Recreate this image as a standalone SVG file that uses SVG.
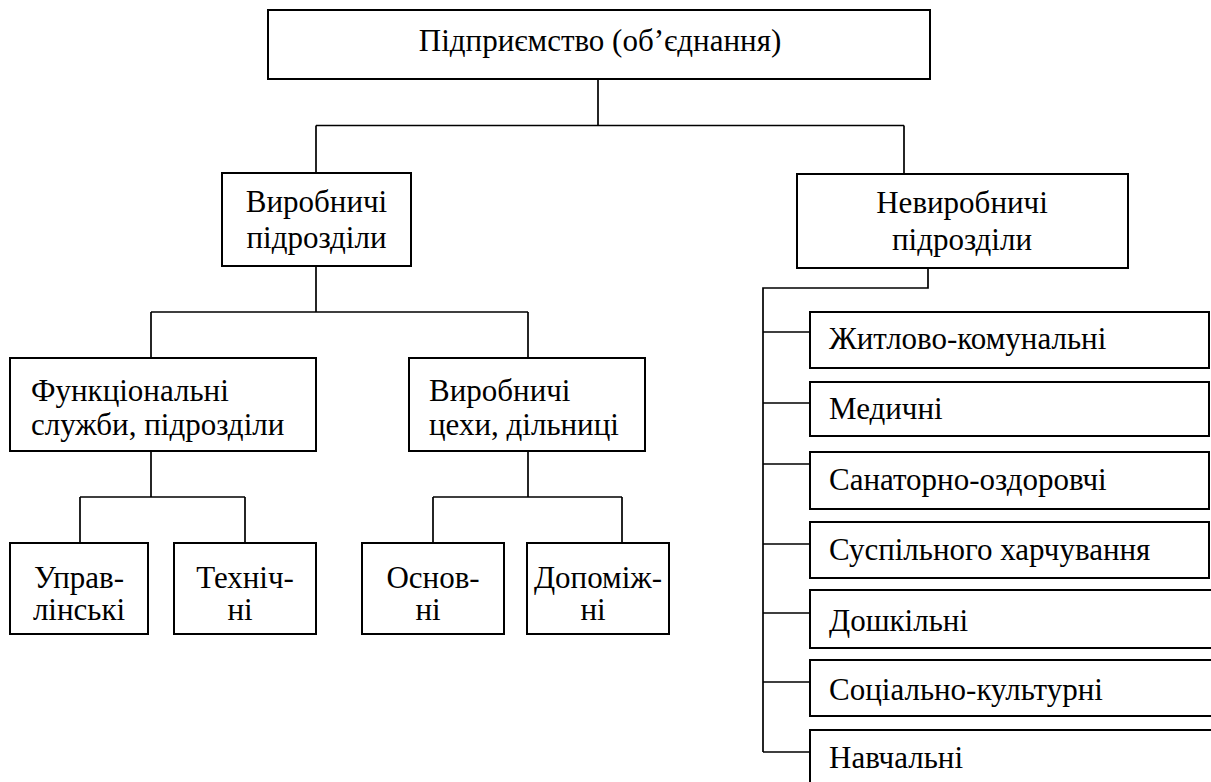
<svg xmlns="http://www.w3.org/2000/svg" width="1211" height="782" viewBox="0 0 1211 782">
  <style>
    .box { fill: #ffffff; stroke: #000000; stroke-width: 2; }
    .wire { fill: none; stroke: #000000; stroke-width: 1.7; }
    .t { font-size: 31px; fill: #000000; }
    .c { text-anchor: middle; }
  </style>
  <rect width="1211" height="782" fill="#ffffff"/>

  <!-- connectors -->
  <g id="connectors">
    <path class="wire" d="M598 79 V125.5 M316 125.5 H904 M316 125.5 V173 M904 125.5 V174"/>
    <path class="wire" d="M316 266 V312 M151 312 H528 M151 312 V358 M528 312 V358"/>
    <path class="wire" d="M151 451 V497 M80 497 H245 M80 497 V543 M245 497 V543"/>
    <path class="wire" d="M528 451 V497 M433 497 H622 M433 497 V543 M622 497 V543"/>
    <path class="wire" d="M928 268 V288 H763 V752"/>
    <path class="wire" d="M763 332 H810 M763 403 H810 M763 464 H810 M763 544 H810 M763 613 H810 M763 682 H810 M763 752 H810"/>
  </g>

  <!-- all node labels share one serif face -->
  <g id="nodes" style="font-family:'Liberation Serif',serif">
    <g id="n-root">
      <rect class="box" x="268" y="10" width="662" height="69"/>
      <text class="t c" x="600" y="51">Підприємство (об’єднання)</text>
    </g>

    <g id="n-prod">
      <rect class="box" x="222" y="173" width="189" height="93"/>
      <text class="t c" x="316.5" y="212">Виробничі</text>
      <text class="t c" x="316.5" y="248">підрозділи</text>
    </g>

    <g id="n-nonprod">
      <rect class="box" x="797" y="174" width="331" height="94"/>
      <text class="t c" x="962" y="213">Невиробничі</text>
      <text class="t c" x="962" y="250">підрозділи</text>
    </g>

    <g id="n-func">
      <rect class="box" x="10" y="358" width="306" height="93"/>
      <text class="t" x="31" y="401">Функціональні</text>
      <text class="t" x="31" y="435">служби, підрозділи</text>
    </g>

    <g id="n-shops">
      <rect class="box" x="409" y="358" width="236" height="93"/>
      <text class="t" x="429" y="401">Виробничі</text>
      <text class="t" x="429" y="435">цехи, дільниці</text>
    </g>

    <g id="n-mgmt">
      <rect class="box" x="10" y="543" width="138" height="91"/>
      <text class="t c" x="79" y="588">Управ-</text>
      <text class="t c" x="79" y="620">лінські</text>
    </g>

    <g id="n-tech">
      <rect class="box" x="174" y="543" width="142" height="91"/>
      <text class="t c" x="245" y="588">Техніч-</text>
      <text class="t c" x="240" y="620">ні</text>
    </g>

    <g id="n-main">
      <rect class="box" x="362" y="543" width="142" height="91"/>
      <text class="t c" x="433" y="588">Основ-</text>
      <text class="t c" x="428" y="620">ні</text>
    </g>

    <g id="n-aux">
      <rect class="box" x="527" y="543" width="142" height="91"/>
      <text class="t c" x="598" y="588">Допоміж-</text>
      <text class="t c" x="593" y="620">ні</text>
    </g>

    <g id="n-housing">
      <rect class="box" x="810" y="312" width="399" height="56"/>
      <text class="t" x="829" y="349">Житлово-комунальні</text>
    </g>

    <g id="n-medical">
      <rect class="box" x="810" y="382" width="399" height="54"/>
      <text class="t" x="829" y="419">Медичні</text>
    </g>

    <g id="n-sanatorium">
      <rect class="box" x="810" y="452" width="399" height="57"/>
      <text class="t" x="829" y="490">Санаторно-оздоровчі</text>
    </g>

    <g id="n-catering">
      <rect class="box" x="810" y="522" width="399" height="56"/>
      <text class="t" x="829" y="560">Суспільного харчування</text>
    </g>

    <g id="n-preschool">
      <rect class="box" x="810" y="590" width="430" height="58"/>
      <text class="t" x="829" y="631">Дошкільні</text>
    </g>

    <g id="n-culture">
      <rect class="box" x="810" y="660" width="430" height="56"/>
      <text class="t" x="829" y="700">Соціально-культурні</text>
    </g>

    <g id="n-education">
      <rect class="box" x="810" y="730" width="430" height="80"/>
      <text class="t" x="829" y="768">Навчальні</text>
    </g>
  </g>
</svg>
